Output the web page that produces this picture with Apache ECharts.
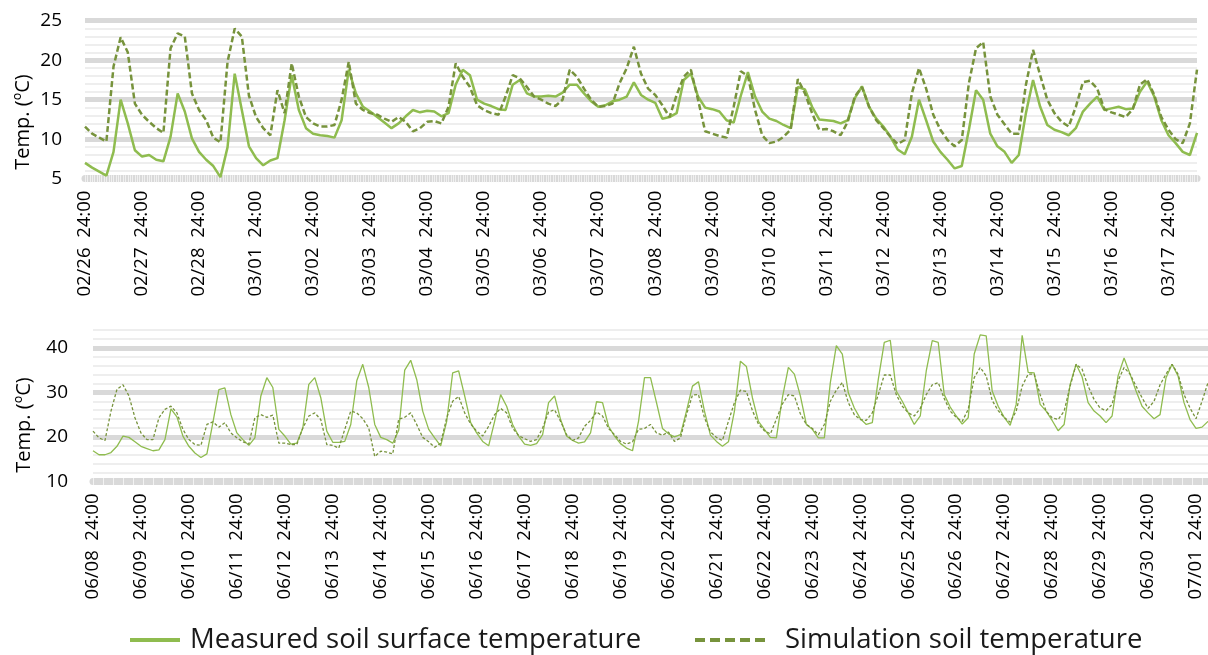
<!DOCTYPE html>
<html><head><meta charset="utf-8">
<script src="https://cdn.jsdelivr.net/npm/echarts@6/dist/echarts.min.js"></script>
<style>html,body{margin:0;padding:0;background:#fff}#c{width:1208px;height:655px}</style>
</head><body><div id="c"></div>
<script>
// ---- data (3-hour steps; index 0 = "day 24:00") ----
const topDays = ['02/26','02/27','02/28','03/01','03/02','03/03','03/04','03/05','03/06','03/07','03/08','03/09','03/10','03/11','03/12','03/13','03/14','03/15','03/16','03/17'];
const bottomDays = ['06/08','06/09','06/10','06/11','06/12','06/13','06/14','06/15','06/16','06/17','06/18','06/19','06/20','06/21','06/22','06/23','06/24','06/25','06/26','06/27','06/28','06/29','06/30','07/01'];

const topMeasured = [
7.0,6.4,5.9,5.4,8.4,15.0,12.0,8.6,
7.8,8.0,7.4,7.2,10.3,15.8,13.5,10.1,
8.4,7.4,6.6,5.2,9.0,18.3,13.7,9.1,
7.6,6.7,7.3,7.6,12.4,18.1,13.7,11.4,
10.7,10.5,10.4,10.2,12.4,18.8,15.8,14.1,
13.5,12.8,12.1,11.4,12.0,12.9,13.7,13.4,
13.6,13.5,12.9,13.3,16.9,18.8,18.1,15.0,
14.5,14.2,13.8,13.7,16.9,17.5,15.8,15.4,
15.4,15.5,15.4,15.9,16.9,16.9,15.8,14.8,
14.1,14.3,14.8,15.0,15.4,17.2,15.6,15.0,
14.6,12.6,12.8,13.3,17.5,18.3,15.4,14.0,
13.8,13.5,12.4,12.1,15.5,18.5,15.4,13.5,
12.6,12.3,11.8,11.4,16.6,16.3,14.1,12.5,
12.4,12.3,12.0,12.4,15.2,16.7,14.1,12.6,
11.6,10.3,8.7,8.1,10.3,15.0,12.4,9.7,
8.4,7.4,6.3,6.6,11.2,16.2,15.0,10.7,
9.1,8.4,7.0,8.0,13.3,17.5,14.1,11.8,
11.2,10.9,10.5,11.4,13.5,14.5,15.4,13.7,
13.9,14.1,13.8,13.9,16.0,17.3,15.4,12.4,
10.5,9.5,8.4,8.0,10.8];

const topSimulated = [
11.6,10.7,10.2,9.7,19.2,22.9,21.0,14.5,
13.1,12.2,11.4,10.8,21.5,23.4,23.0,15.8,
13.7,12.4,10.2,9.6,19.8,24.0,23.0,15.5,
12.8,11.4,10.5,16.2,13.3,19.6,15.4,12.8,
12.0,11.6,11.6,11.8,15.0,19.8,14.5,13.7,
13.3,13.1,12.6,12.2,12.8,12.2,11.0,11.4,
12.2,12.3,12.0,14.1,19.6,17.9,16.6,14.3,
13.7,13.3,13.1,15.4,18.1,17.7,16.6,15.4,
15.0,14.5,14.2,15.0,18.8,17.9,16.4,15.0,
14.1,14.2,14.5,17.1,19.0,21.7,18.3,16.4,
15.6,14.3,12.8,15.6,17.9,18.8,15.0,11.0,
10.7,10.4,10.2,14.1,18.6,18.0,13.7,10.5,
9.5,9.7,10.3,11.2,17.6,15.8,13.3,11.2,
11.3,11.0,10.5,12.2,15.4,16.6,14.1,12.4,
11.4,10.3,9.4,9.9,15.8,19.0,16.4,13.1,
11.2,9.9,9.1,9.9,17.1,21.5,22.3,15.4,
13.1,11.9,10.7,10.7,16.9,21.3,18.1,15.0,
13.3,12.2,11.6,14.1,17.2,17.4,16.4,13.8,
13.4,13.1,12.8,13.8,16.9,17.6,15.6,12.8,
11.2,10.0,9.5,12.0,18.8];

const bottomMeasured = [
16.9,16.0,16.0,16.5,17.9,20.2,19.9,18.9,
17.9,17.4,16.9,17.1,19.4,26.3,24.5,20.2,
17.9,16.4,15.4,16.2,23.2,30.6,31.0,25.0,
20.9,19.4,18.1,19.8,29.2,33.3,31.1,21.7,
20.2,18.4,18.6,22.0,31.8,33.3,28.8,21.3,
18.8,18.8,19.0,22.8,32.6,36.3,31.1,22.8,
19.9,19.4,18.6,21.5,35.0,37.2,32.9,25.8,
21.7,19.8,18.0,23.5,34.4,34.8,29.2,23.2,
20.9,19.0,18.0,23.5,29.5,26.9,22.8,20.2,
18.4,18.1,18.5,20.5,27.7,29.2,23.9,20.2,
19.2,18.6,18.9,20.9,27.9,27.7,22.4,20.2,
18.5,17.5,16.9,23.5,33.3,33.3,27.7,21.9,
20.7,20.0,20.5,25.8,31.4,32.4,25.8,20.4,
19.0,17.9,18.9,25.8,37.0,35.8,28.8,23.5,
21.7,19.9,19.8,28.8,35.6,34.1,29.2,22.8,
21.7,19.8,19.8,32.2,40.5,38.6,29.9,26.5,
24.1,22.8,23.2,32.9,41.2,41.7,30.3,28.0,
25.4,22.8,24.7,34.8,41.6,41.2,29.5,26.7,
24.7,22.9,24.3,38.6,42.9,42.7,30.3,26.9,
24.4,22.6,27.3,42.8,34.5,34.4,27.3,25.8,
23.7,21.4,22.8,31.8,36.3,33.5,27.7,25.8,
24.7,23.2,24.7,33.7,37.7,34.1,30.3,26.9,
25.4,24.1,25.0,33.3,36.3,33.7,27.7,23.9,
21.9,22.2,23.5];

const bottomSimulated = [
21.3,19.8,19.2,25.8,30.7,31.7,29.2,24.3,
20.9,19.4,19.4,24.3,26.2,26.9,25.4,21.7,
19.4,18.3,18.1,22.8,23.4,22.2,23.2,20.9,
19.8,18.9,18.4,24.3,25.0,24.4,24.9,18.6,
18.6,18.3,18.3,22.0,24.7,25.4,23.9,18.3,
18.1,17.5,21.7,25.8,25.4,24.1,22.0,15.6,
16.8,16.6,16.2,24.0,24.4,25.4,22.8,19.9,
18.9,17.7,18.6,24.3,28.0,29.1,25.4,22.9,
21.3,20.2,22.4,25.0,26.4,25.4,22.0,20.3,
19.6,19.0,19.4,22.0,25.6,26.1,23.5,20.5,
19.2,19.8,22.4,23.7,25.6,24.7,21.9,20.5,
19.0,18.4,18.9,21.7,21.9,22.8,20.9,20.4,
21.1,19.0,19.8,25.0,29.4,29.5,24.3,21.1,
19.9,19.2,23.5,27.7,30.5,30.2,25.9,22.9,
21.4,20.7,24.0,27.4,29.5,29.2,25.2,22.8,
21.9,20.5,22.8,28.0,30.5,32.2,27.7,25.0,
23.9,23.7,25.4,29.5,33.9,33.9,29.5,26.9,
25.4,24.7,26.4,29.5,31.7,32.2,28.6,25.8,
24.4,23.5,26.2,33.3,35.6,33.7,28.2,25.9,
24.4,23.3,25.8,31.4,34.1,34.1,29.5,25.8,
24.3,23.9,25.8,31.4,36.3,35.2,31.4,28.4,
26.5,25.9,27.3,32.6,35.6,34.1,31.4,28.8,
26.4,28.0,31.7,34.1,36.3,34.1,29.5,26.5,
24.1,28.0,32.2];

const seriesNames = ['Measured soil surface temperature', 'Simulation soil temperature'];
const yTitle = 'Temp. (ºC)';

// ---- build ----
function buildCats(days, n) {
  const out = [];
  for (let i = 0; i < n; i++) {
    const d = Math.floor(i / 8), h = (i % 8) * 3;
    out.push(i % 8 === 0 ? days[d] + '  24:00' : days[d] + ' ' + String(h).padStart(2, '0') + ':00');
  }
  return out;
}
const topCats = buildCats(topDays, topMeasured.length);
const botCats = buildCats(bottomDays, bottomMeasured.length);

const FONT = 'Open Sans';
const cMeas = '#8FBC4F', cSim = '#77933C';
const major = '#d9d9d9', minor = '#eeeeee', clear = 'rgba(0,0,0,0)';
const solidIcon = 'path://M0,0h50v4h-50z';
const dashIcon = 'path://M0,0h10v4h-10zM15,0h10v4h-10zM30,0h10v4h-10zM45,0h10v4h-10zM60,0h10v4h-10z';

const chart = echarts.init(document.getElementById('c'), null, {renderer: 'canvas'});
chart.setOption({
  animation: false,
  backgroundColor: '#fff',
  textStyle: {fontFamily: FONT},
  grid: [
    {left: 85, top: 20.7, width: 1112, height: 158},
    {left: 93, top: 330, right: 0, height: 151.5}
  ],
  xAxis: [
    {type: 'category', gridIndex: 0, position: 'bottom', data: topCats, boundaryGap: false,
     axisLine: {lineStyle: {color: major, width: 7}}, axisTick: {show: false},
     axisLabel: {interval: 7, rotate: 90, fontSize: 18.5, color: '#000', margin: 12, fontFamily: FONT},
     splitLine: {show: false}},
    {type: 'value', gridIndex: 0, position: 'bottom', min: 0, max: 468, interval: 3, offset: -3.5,
     axisLine: {show: false}, axisLabel: {show: false}, splitLine: {show: false},
     axisTick: {show: true, length: 7, lineStyle: {color: '#f0f0f0', width: 1}},
     minorTick: {show: true, splitNumber: 3, length: 7, lineStyle: {color: '#f0f0f0', width: 1}}},
    {type: 'category', gridIndex: 1, position: 'bottom', data: botCats, boundaryGap: false,
     axisLine: {lineStyle: {color: major, width: 7}}, axisTick: {show: false},
     axisLabel: {interval: 7, rotate: 90, fontSize: 18.5, color: '#000', margin: 12, fontFamily: FONT},
     splitLine: {show: false}},
    {type: 'value', gridIndex: 1, position: 'bottom', min: 0, max: 558, interval: 5, offset: -3.5,
     axisLine: {show: false}, axisLabel: {show: false}, splitLine: {show: false},
     axisTick: {show: true, length: 7, lineStyle: {color: '#f2f2f2', width: 1}}}
  ],
  yAxis: [
    {type: 'value', gridIndex: 0, position: 'left', min: 5, max: 25, interval: 5,
     axisLine: {show: false}, axisTick: {show: false},
     axisLabel: {fontSize: 19, color: '#000', margin: 23, fontFamily: FONT},
     splitLine: {lineStyle: {color: major, width: 5}},
     minorTick: {show: false, splitNumber: 5},
     minorSplitLine: {show: true, lineStyle: {color: minor, width: 2}}},
    {type: 'value', gridIndex: 1, position: 'left', min: 10, max: 44, interval: 10,
     axisLine: {show: false}, axisTick: {show: false},
     axisLabel: {fontSize: 19, color: '#000', margin: 25, fontFamily: FONT, showMaxLabel: false},
     splitLine: {lineStyle: {color: [major, major, major, major, clear], width: 5}}},
    {type: 'value', gridIndex: 1, position: 'left', min: 10, max: 44, interval: 2,
     axisLine: {show: false}, axisTick: {show: false}, axisLabel: {show: false},
     splitLine: {lineStyle: {color: [clear, minor, minor, minor, minor], width: 2}}}
  ],
  legend: [
    {left: 125, top: 621, itemWidth: 50, itemHeight: 4, icon: solidIcon,
     textStyle: {fontSize: 27.5, color: '#1a1a1a', fontFamily: FONT, padding: [0, 0, 0, 5]},
     data: [seriesNames[0]]},
    {left: 690, top: 621, itemWidth: 70, itemHeight: 4, icon: dashIcon,
     textStyle: {fontSize: 27.5, color: '#1a1a1a', fontFamily: FONT, padding: [0, 0, 0, 15]},
     data: [seriesNames[1]]}
  ],
  graphic: [
    {type: 'text', x: 23, y: 122, rotation: Math.PI / 2,
     style: {text: yTitle, fontSize: 20, fontFamily: FONT, fill: '#000', align: 'center', verticalAlign: 'middle'}},
    {type: 'text', x: 24, y: 425, rotation: Math.PI / 2,
     style: {text: yTitle, fontSize: 20, fontFamily: FONT, fill: '#000', align: 'center', verticalAlign: 'middle'}}
  ],
  series: [
    {name: seriesNames[0], type: 'line', xAxisIndex: 0, yAxisIndex: 0, data: topMeasured, symbol: 'none',
     lineStyle: {color: cMeas, width: 2.5}, itemStyle: {color: cMeas}},
    {name: seriesNames[1], type: 'line', xAxisIndex: 0, yAxisIndex: 0, data: topSimulated, symbol: 'none',
     lineStyle: {color: cSim, width: 2.5, type: [6, 3]}, itemStyle: {color: cSim}},
    {name: seriesNames[0], type: 'line', xAxisIndex: 2, yAxisIndex: 1, data: bottomMeasured, symbol: 'none',
     lineStyle: {color: cMeas, width: 1.3}, itemStyle: {color: cMeas}},
    {name: seriesNames[1], type: 'line', xAxisIndex: 2, yAxisIndex: 1, data: bottomSimulated, symbol: 'none',
     lineStyle: {color: cSim, width: 1.3, type: [3, 2]}, itemStyle: {color: cSim}}
  ]
});
</script></body></html>
